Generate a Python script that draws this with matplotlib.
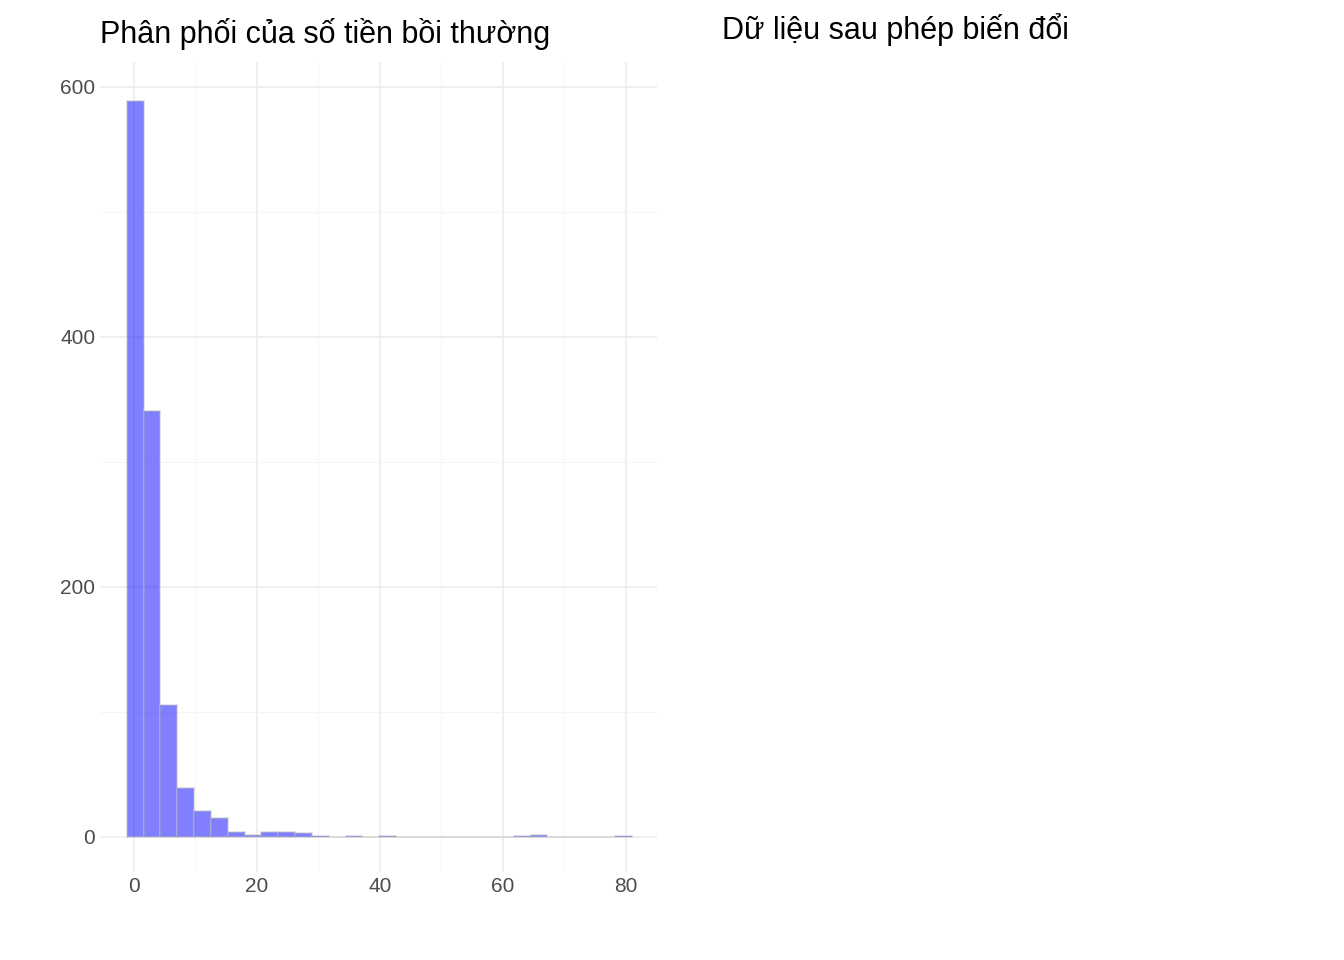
import matplotlib.pyplot as plt
import numpy as np

# histogram counts (30 bins)
counts = [589, 341, 106, 39, 21, 15, 4, 2, 4, 4, 3, 1, 0, 1, 0,
          1, 0, 0, 0, 0, 0, 0, 0, 1, 2, 0, 0, 0, 0, 1]
bin_start = -1.14
bin_width = 2.737
edges = bin_start + bin_width * np.arange(len(counts) + 1)

plt.rcParams['font.family'] = ['Arial', 'Liberation Sans', 'DejaVu Sans']

fig = plt.figure(figsize=(13.44, 9.6), dpi=100)
ax = fig.add_axes([100 / 1344, 1 - 872 / 960, 557 / 1344, 810 / 960])
ax.bar(edges[:-1], counts, width=bin_width, align='edge',
       color='#0000ff', alpha=0.5, edgecolor='#bebebe', linewidth=1.2, zorder=3)
ax.set_xlim(-5.5, 85.1)
ax.set_ylim(-28, 620)
ax.set_xticks([0, 20, 40, 60, 80])
ax.set_xticks([10, 30, 50, 70], minor=True)
ax.set_yticks([0, 200, 400, 600])
ax.set_yticks([100, 300, 500], minor=True)
ax.grid(which='major', color='#ebebeb', linewidth=1.1, zorder=0)
ax.grid(which='minor', color='#f4f4f4', linewidth=0.6, zorder=0)
for s in ax.spines.values():
    s.set_visible(False)
ax.tick_params(which='both', length=0, labelsize=15, colors='#4d4d4d')
ax.set_title('Phân phối của số tiền bồi thường', fontsize=22, loc='left', x=0.0, pad=14)

fig.text(722 / 1344, 1 - 30 / 960, 'Dữ liệu sau phép biến đổi', fontsize=22, va='center')

fig.savefig('out.png')
